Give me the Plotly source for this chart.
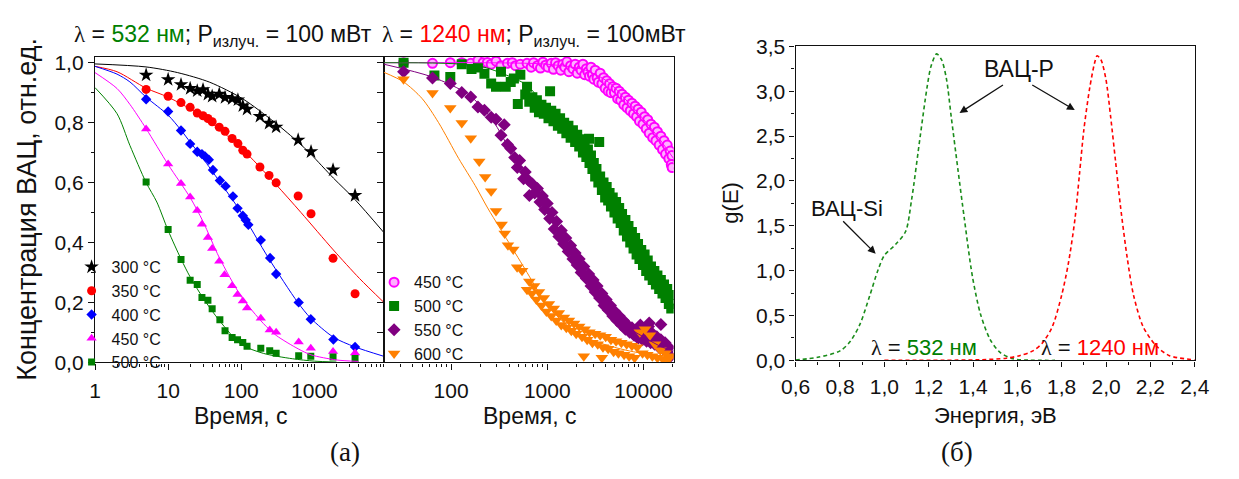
import plotly.graph_objects as go

# ---------------- panel (a), left: annealing at 532 nm ----------------
t_300 = [5, 10, 15, 20, 25, 30, 35, 40, 50, 60, 75, 90, 105, 120, 180, 240, 300, 600, 900, 1800, 3600]
c_300 = [0.959, 0.944, 0.927, 0.914, 0.906, 0.91, 0.895, 0.888, 0.895, 0.884, 0.88, 0.876, 0.856, 0.845,
         0.821, 0.798, 0.785, 0.742, 0.703, 0.642, 0.557]
t_350 = [5, 10, 15, 20, 25, 30, 35, 40, 50, 60, 75, 90, 105, 120, 180, 240, 300, 600, 900, 1800, 3600]
c_350 = [0.911, 0.888, 0.867, 0.851, 0.832, 0.823, 0.814, 0.803, 0.785, 0.771, 0.747, 0.73, 0.708, 0.695,
         0.652, 0.624, 0.599, 0.555, 0.496, 0.347, 0.229]
t_400 = [5, 10, 15, 20, 25, 29, 32, 36, 41, 51, 61, 77, 89, 105, 115, 125, 185, 248, 300, 610, 893, 1820, 3600]
c_400 = [0.878, 0.837, 0.774, 0.729, 0.703, 0.695, 0.687, 0.676, 0.642, 0.607, 0.588, 0.554, 0.514, 0.489,
         0.475, 0.459, 0.408, 0.348, 0.295, 0.2, 0.144, 0.076, 0.051]
t_450 = [5, 10, 15, 20, 25, 29, 35, 40, 50, 59, 75, 89, 105, 120, 185, 245, 300, 610, 893, 1800, 3600]
c_450 = [0.779, 0.662, 0.597, 0.552, 0.507, 0.461, 0.417, 0.38, 0.337, 0.292, 0.256, 0.226, 0.205, 0.181,
         0.147, 0.108, 0.1, 0.068, 0.047, 0.036, 0.031]
t_500 = [5, 10, 15, 20, 25, 29, 35, 40, 51, 60, 75, 89, 105, 120, 185, 245, 300, 610, 893, 1800, 3600]
c_500 = [0.602, 0.443, 0.343, 0.274, 0.26, 0.216, 0.207, 0.179, 0.142, 0.105, 0.083, 0.075, 0.066, 0.054,
         0.047, 0.039, 0.03, 0.022, 0.02, 0.018, 0.013]

# fitted kinetics curves, panel (a) left
fit_t_300 = [1, 5, 13.5, 37, 104, 290, 600, 893, 1820, 3540, 8930]
fit_c_300 = [0.996, 0.986, 0.967, 0.935, 0.88, 0.80, 0.735, 0.695, 0.615, 0.545, 0.433]
fit_t_350 = [1, 2, 5, 10, 30, 100, 290, 656, 1820, 4140, 8930]
fit_c_350 = [0.988, 0.97, 0.915, 0.885, 0.82, 0.715, 0.597, 0.50, 0.375, 0.28, 0.20]
fit_t_400 = [1, 2, 3, 5, 10, 15, 20, 30, 50, 100, 236, 593, 893, 1820, 3540, 8930]
fit_c_400 = [0.988, 0.962, 0.936, 0.885, 0.825, 0.775, 0.735, 0.68, 0.605, 0.5, 0.348, 0.2, 0.147, 0.084, 0.052, 0.02]
fit_t_450 = [1, 2, 3, 5, 10, 20, 30, 50, 100, 200, 300, 600, 900, 2000, 4000]
fit_c_450 = [0.967, 0.914, 0.861, 0.78, 0.66, 0.55, 0.47, 0.35, 0.22, 0.13, 0.09, 0.045, 0.025, 0.008, 0.003]
fit_t_500 = [1, 2, 3, 5, 7, 10, 15, 20, 30, 50, 100, 200, 500, 1000, 2000]
fit_c_500 = [0.917, 0.83, 0.724, 0.60, 0.535, 0.44, 0.345, 0.285, 0.215, 0.14, 0.06, 0.03, 0.012, 0.004, 0.001]

# ---------------- panel (a), right: annealing at 1240 nm ----------------
t_450b = [32, 64, 98, 129, 160, 190, 215, 238, 261, 293, 330, 385, 432, 468, 525, 616, 680, 720, 790, 850,
          900, 960, 1020, 1100, 1160, 1220, 1300, 1380, 1450, 1520, 1600, 1680, 1750, 1850, 1950, 2050,
          2150, 2250, 2350, 2450, 2550, 2650, 2750, 2850, 2950, 3050, 3150, 3300, 3400, 3550, 3700, 3850,
          4000, 4150, 4300, 4450, 4600, 4800, 5000, 5200, 5400, 5600, 5800, 6000, 6250, 6500, 6750, 7000,
          7300, 7600, 7900, 8200, 8500, 8800, 9100, 9500, 9900, 10300, 10700, 11100, 11500, 12000, 12500,
          13000, 13500, 14000, 14600, 15200, 15800, 16400, 17000, 17700, 18400, 19000, 19500, 19800, 19900]
c_450b = [1.0, 0.998, 1.0, 1.0, 0.998, 1.008, 1.0, 1.001, 0.995, 1.005, 0.99, 0.998, 1.0, 0.99, 0.995, 0.998,
          0.985, 1.0, 0.99, 0.982, 1.002, 0.992, 0.985, 0.998, 0.978, 1.0, 0.99, 0.975, 0.995, 0.985, 1.003,
          0.97, 0.99, 0.98, 0.995, 0.965, 0.985, 0.975, 0.995, 0.96, 0.98, 0.97, 0.955, 0.985, 0.96, 0.945,
          0.975, 0.95, 0.935, 0.965, 0.93, 0.95, 0.915, 0.94, 0.905, 0.93, 0.9, 0.92, 0.9, 0.915, 0.88, 0.905,
          0.875, 0.895, 0.86, 0.885, 0.85, 0.875, 0.84, 0.865, 0.83, 0.855, 0.82, 0.845, 0.805, 0.835, 0.795,
          0.82, 0.78, 0.81, 0.765, 0.795, 0.75, 0.785, 0.74, 0.77, 0.725, 0.755, 0.71, 0.74, 0.695, 0.725,
          0.68, 0.705, 0.66, 0.69, 0.65]
t_500b = [32, 67, 98, 129, 163, 190, 222, 261, 293, 330, 370, 417, 450, 494, 525, 590, 616, 650, 700, 740,
          780, 820, 870, 920, 970, 1030, 1070, 1100, 1160, 1220, 1290, 1360, 1430, 1500, 1580, 1660, 1750,
          1850, 1950, 2050, 2150, 2250, 2350, 2450, 2550, 2650, 2720, 2750, 2850, 2950, 3050, 3150, 3250,
          3400, 3470, 3550, 3700, 3850, 4000, 4150, 4300, 4450, 4600, 4800, 5000, 5200, 5400, 5600, 5800,
          6000, 6250, 6500, 6750, 7000, 7300, 7600, 7900, 8200, 8500, 8800, 9100, 9500, 9900, 10300, 10700,
          11100, 11500, 12000, 12500, 13000, 13500, 14000, 14600, 15200, 15800, 16400, 17000, 17700, 18400,
          19000, 19500]
c_500b = [1.0, 0.957, 0.952, 0.995, 0.979, 0.984, 0.963, 0.931, 0.92, 0.97, 0.92, 0.936, 0.947, 0.862, 0.96,
          0.894, 0.92, 0.87, 0.885, 0.85, 0.875, 0.835, 0.86, 0.83, 0.85, 0.815, 0.905, 0.84, 0.805, 0.83,
          0.79, 0.815, 0.78, 0.8, 0.765, 0.79, 0.75, 0.775, 0.735, 0.76, 0.72, 0.745, 0.7, 0.73, 0.685, 0.71,
          0.746, 0.665, 0.69, 0.645, 0.665, 0.62, 0.645, 0.6, 0.735, 0.62, 0.575, 0.6, 0.55, 0.585, 0.54,
          0.565, 0.52, 0.55, 0.5, 0.535, 0.48, 0.515, 0.465, 0.495, 0.44, 0.475, 0.42, 0.455, 0.4, 0.435,
          0.38, 0.415, 0.36, 0.395, 0.345, 0.375, 0.325, 0.36, 0.305, 0.34, 0.29, 0.32, 0.275, 0.305, 0.26,
          0.29, 0.245, 0.275, 0.23, 0.26, 0.215, 0.245, 0.195, 0.225, 0.18]
t_550b = [32, 64, 98, 129, 160, 190, 222, 261, 293, 330, 357, 385, 417, 458, 488, 516, 567, 590, 636, 652,
          700, 740, 790, 840, 890, 940, 1000, 1060, 1120, 1180, 1250, 1320, 1400, 1480, 1560, 1650, 1750,
          1850, 1950, 2050, 2150, 2250, 2400, 2550, 2700, 2850, 3000, 3150, 3300, 3500, 3700, 3900, 4100,
          4300, 4550, 4800, 5050, 5300, 5600, 5900, 6200, 6500, 6850, 7200, 7600, 8000, 8400, 8800, 9300,
          9800, 10300, 10800, 11300, 11500, 11900, 12500, 13100, 13800, 14500, 15200, 15200, 16000, 16800,
          17600, 18400, 19200]
c_550b = [0.97, 0.949, 0.931, 0.901, 0.886, 0.852, 0.841, 0.818, 0.811, 0.758, 0.793, 0.727, 0.714, 0.684,
          0.65, 0.674, 0.613, 0.635, 0.608, 0.557, 0.595, 0.565, 0.58, 0.535, 0.555, 0.51, 0.53, 0.48, 0.5,
          0.445, 0.47, 0.42, 0.44, 0.395, 0.415, 0.37, 0.39, 0.345, 0.365, 0.325, 0.345, 0.3, 0.32, 0.28,
          0.295, 0.255, 0.275, 0.235, 0.255, 0.215, 0.23, 0.19, 0.21, 0.175, 0.19, 0.155, 0.17, 0.14, 0.155,
          0.125, 0.14, 0.11, 0.125, 0.1, 0.115, 0.09, 0.105, 0.08, 0.125, 0.075, 0.1, 0.07, 0.12, 0.131,
          0.065, 0.095, 0.06, 0.085, 0.05, 0.075, 0.126, 0.045, 0.065, 0.035, 0.05, 0.02]
t_600b = [32, 64, 98, 129, 160, 196, 226, 261, 293, 335, 361, 390, 443, 486, 547, 616, 650, 690, 730, 770,
          820, 870, 920, 980, 1040, 1100, 1170, 1240, 1320, 1400, 1490, 1580, 1680, 1780, 1900, 2000, 2150,
          2300, 2400, 2450, 2600, 2750, 2950, 3150, 3350, 3550, 3700, 3800, 4050, 4300, 4600, 4900, 5200,
          5500, 5900, 6300, 6700, 7100, 7600, 8100, 8600, 9200, 9800, 10400, 11000, 11700, 12400, 13200,
          14000, 15000, 16000, 17000, 18000, 19000]
c_600b = [0.945, 0.899, 0.849, 0.799, 0.748, 0.67, 0.619, 0.571, 0.505, 0.46, 0.43, 0.391, 0.377, 0.317,
          0.306, 0.242, 0.27, 0.23, 0.255, 0.21, 0.235, 0.19, 0.215, 0.17, 0.195, 0.155, 0.18, 0.14, 0.165,
          0.125, 0.15, 0.115, 0.14, 0.105, 0.13, 0.095, 0.12, 0.085, 0.02, 0.11, 0.075, 0.1, 0.065, 0.095,
          0.06, 0.09, 0.015, 0.05, 0.085, 0.045, 0.075, 0.035, 0.07, 0.03, 0.065, 0.025, 0.06, 0.02, 0.055,
          0.015, 0.05, 0.1, 0.03, 0.11, 0.025, 0.09, 0.02, 0.06, 0.015, 0.04, 0.01, 0.03, 0.008, 0.02]

# fitted kinetics curves, panel (a) right
fit_t_450b = [20, 200, 1000, 2500, 4340, 6410, 9480, 13970, 20650]
fit_c_450b = [1.0, 1.0, 0.995, 0.975, 0.935, 0.88, 0.82, 0.755, 0.68]
fit_t_500b = [20, 190, 400, 616, 800, 1000, 1585, 2512, 3981, 6310, 10000, 15850, 20650]
fit_c_500b = [1.0, 0.99, 0.955, 0.925, 0.885, 0.85, 0.77, 0.685, 0.575, 0.46, 0.35, 0.25, 0.19]
fit_t_550b = [20, 64, 151, 261, 385, 616, 1000, 1585, 2512, 3981, 6310, 10000, 15850, 20650]
fit_c_550b = [0.995, 0.952, 0.894, 0.815, 0.724, 0.608, 0.5, 0.38, 0.28, 0.19, 0.125, 0.085, 0.05, 0.04]
fit_t_600b = [20, 32, 50, 74, 120, 178, 240, 316, 398, 616, 794, 1000, 1413, 2000, 3162, 5012, 7943, 12590, 20650]
fit_c_600b = [0.968, 0.936, 0.88, 0.80, 0.68, 0.59, 0.515, 0.452, 0.40, 0.30, 0.24, 0.19, 0.14, 0.10,
              0.07, 0.05, 0.035, 0.025, 0.015]

# ---------------- panel (б): energy distribution g(E) ----------------
e_532 = [0.60, 0.70, 0.80, 0.847, 0.891, 0.935, 0.972, 1.0, 1.05, 1.096, 1.123, 1.162, 1.192, 1.211, 1.236,
         1.258, 1.28, 1.302, 1.331, 1.361, 1.397, 1.434, 1.478, 1.522, 1.581, 1.65, 1.77]
g_532 = [0.005, 0.035, 0.106, 0.213, 0.408, 0.727, 1.01, 1.17, 1.29, 1.436, 1.79, 2.5, 3.03, 3.28, 3.415,
         3.35, 3.14, 2.71, 2.145, 1.578, 0.94, 0.514, 0.23, 0.089, 0.018, 0.003, 0.0]
e_1240 = [1.0, 1.43, 1.55, 1.61, 1.67, 1.713, 1.757, 1.80, 1.83, 1.86, 1.88, 1.90, 1.926, 1.948, 1.96, 1.977,
          1.999, 2.021, 2.043, 2.065, 2.095, 2.124, 2.168, 2.227, 2.286, 2.4]
g_1240 = [0.0, 0.007, 0.025, 0.053, 0.106, 0.195, 0.372, 0.727, 1.08, 1.578, 2.07, 2.57, 3.03, 3.31, 3.394,
          3.35, 3.14, 2.71, 2.216, 1.72, 1.152, 0.727, 0.372, 0.16, 0.053, 0.007]

# tick values and labels
ticks_t_a = [1, 10, 100, 1000]
ticks_t_b = [100, 1000, 10000]
ticks_c = [0.0, 0.2, 0.4, 0.6, 0.8, 1.0]
ticks_c_text = ["0,0", "0,2", "0,4", "0,6", "0,8", "1,0"]
ticks_e = [0.6, 0.8, 1.0, 1.2, 1.4, 1.6, 1.8, 2.0, 2.2, 2.4]
ticks_e_text = ["0,6", "0,8", "1,0", "1,2", "1,4", "1,6", "1,8", "2,0", "2,2", "2,4"]
ticks_g = [0.0, 0.5, 1.0, 1.5, 2.0, 2.5, 3.0, 3.5]
ticks_g_text = ["0,0", "0,5", "1,0", "1,5", "2,0", "2,5", "3,0", "3,5"]

W, H = 1239, 479
FONT = "Liberation Sans, Arial, sans-serif"
SERIF = "Liberation Serif, Times New Roman, serif"
INK = "#111111"


def fx(p):
    return p / W


def fy(p):
    return 1 - p / H


BLACK, RED, BLUE, MAGENTA, GREEN = "#000000", "#ff0000", "#0000ff", "#ff00ff", "#008000"
PURPLE, ORANGE = "#800080", "#ff8000"

fig = go.Figure()

# --- left sub-panel markers
left_series = [
    ("300 °C", t_300, c_300, "star", 11, BLACK),
    ("350 °C", t_350, c_350, "circle", 9, RED),
    ("400 °C", t_400, c_400, "diamond", 8, BLUE),
    ("450 °C", t_450, c_450, "triangle-up", 9, MAGENTA),
    ("500 °C", t_500, c_500, "square", 7, GREEN),
]
for name, tx, cy, sym, sz, col in left_series:
    fig.add_trace(go.Scatter(x=tx, y=cy, mode="markers", name=name, legend="legend",
                             marker=dict(symbol=sym, size=sz, color=col, line=dict(width=0)),
                             xaxis="x", yaxis="y"))

left_fits = [(fit_t_300, fit_c_300, BLACK), (fit_t_350, fit_c_350, RED), (fit_t_400, fit_c_400, BLUE),
             (fit_t_450, fit_c_450, MAGENTA), (fit_t_500, fit_c_500, GREEN)]
for tx, cy, col in left_fits:
    fig.add_trace(go.Scatter(x=tx, y=cy, mode="lines", showlegend=False,
                             line=dict(color=col, width=1, shape="spline", smoothing=0.8),
                             xaxis="x", yaxis="y"))

# --- right sub-panel markers
right_series = [
    ("450 °C", t_450b, c_450b, "circle", 9, "#ffb0ff", dict(width=2, color=MAGENTA)),
    ("500 °C", t_500b, c_500b, "square", 10, GREEN, dict(width=0)),
    ("550 °C", t_550b, c_550b, "diamond", 10, PURPLE, dict(width=0)),
    ("600 °C", t_600b, c_600b, "triangle-down", 11, ORANGE, dict(width=0)),
]
for name, tx, cy, sym, sz, col, ln in right_series:
    fig.add_trace(go.Scatter(x=tx, y=cy, mode="markers", name=name, legend="legend2",
                             marker=dict(symbol=sym, size=sz, color=col, line=ln),
                             xaxis="x2", yaxis="y2"))

right_fits = [(fit_t_450b, fit_c_450b, MAGENTA), (fit_t_500b, fit_c_500b, GREEN),
              (fit_t_550b, fit_c_550b, PURPLE), (fit_t_600b, fit_c_600b, ORANGE)]
for tx, cy, col in right_fits:
    fig.add_trace(go.Scatter(x=tx, y=cy, mode="lines", showlegend=False,
                             line=dict(color=col, width=1, shape="spline", smoothing=0.8),
                             xaxis="x2", yaxis="y2"))

# --- g(E) curves
for ex, gy, col in [(e_532, g_532, "#1a8c1a"), (e_1240, g_1240, RED)]:
    fig.add_trace(go.Scatter(x=ex, y=gy, mode="lines", showlegend=False,
                             line=dict(color=col, width=1.6, dash="4px,3px", shape="spline", smoothing=0.8),
                             xaxis="x3", yaxis="y3"))

axis_common = dict(showline=True, linecolor=INK, linewidth=1.4, mirror=True, showgrid=False,
                   zeroline=False, ticks="outside", tickcolor=INK, tickwidth=1.2,
                   tickfont=dict(family=FONT, size=21, color=INK))

ya_dom = [fy(368), fy(47)]
yr_dom = [fy(366), fy(36)]
legend_font = dict(family=FONT, size=16, color=INK)

fig.update_layout(
    width=W, height=H, margin=dict(l=0, r=0, t=0, b=0),
    paper_bgcolor="white", plot_bgcolor="white",
    font=dict(family=FONT, color=INK),
    xaxis=dict(axis_common, type="log", range=[0, 3.95], domain=[fx(82), fx(378)], anchor="y",
               tickvals=ticks_t_a, ticktext=[str(v) for v in ticks_t_a], ticklen=6, ticklabelstandoff=3,
               minor=dict(ticks="outside", ticklen=3, dtick="D1", tickcolor=INK, showgrid=False)),
    yaxis=dict(axis_common, range=[0, 1.02], domain=ya_dom, anchor="x",
               tickvals=ticks_c, ticktext=ticks_c_text, ticklen=6,
               minor=dict(ticks="outside", ticklen=3, dtick=0.1, tickcolor=INK, showgrid=False)),
    xaxis2=dict(axis_common, type="log", range=[1.30, 4.315], domain=[fx(378), fx(675)], anchor="y2",
                tickvals=ticks_t_b, ticktext=[str(v) for v in ticks_t_b], ticklen=6, ticklabelstandoff=3,
                minor=dict(ticks="outside", ticklen=3, dtick="D1", tickcolor=INK, showgrid=False)),
    yaxis2=dict(axis_common, range=[0, 1.02], domain=ya_dom, anchor="x2",
                dtick=0.1, tick0=0, showticklabels=False, ticklen=6),
    xaxis3=dict(axis_common, range=[0.6, 2.4], domain=[fx(800), fx(1209)], anchor="y3",
                tickvals=ticks_e, ticktext=ticks_e_text, ticklen=5, ticklabelstandoff=2,
                minor=dict(ticks="outside", ticklen=3, dtick=0.1, tick0=0.6, tickcolor=INK, showgrid=False)),
    yaxis3=dict(axis_common, range=[0, 3.5], domain=yr_dom, anchor="x3",
                tickvals=ticks_g, ticktext=ticks_g_text, ticklen=5,
                minor=dict(ticks="outside", ticklen=3, dtick=0.25, tick0=0, tickcolor=INK, showgrid=False)),
    legend=dict(x=fx(58), y=fy(250), xanchor="left", yanchor="top", bgcolor="rgba(0,0,0,0)",
                font=legend_font, tracegroupgap=0, itemwidth=30),
    legend2=dict(x=fx(368), y=fy(266), xanchor="left", yanchor="top", bgcolor="rgba(0,0,0,0)",
                 font=legend_font, tracegroupgap=0, itemwidth=30),
)

lam = "<span style='font-family:Liberation Serif'>λ</span>"
texts = [
    (lam + " = <span style='color:#008000'>532 нм</span>; P<sub>излуч.</sub> = 100 мВт", 213, 25, 23, FONT, 0),
    (lam + " = <span style='color:#ff0000'>1240 нм</span>; P<sub>излуч.</sub> = 100мВт", 532, 25, 23, FONT, 0),
    ("Концентрация ВАЦ, отн.ед.", 12, 207, 27, FONT, -90),
    ("Время, с", 231, 424, 23, FONT, 0),
    ("Время, с", 527, 424, 23, FONT, 0),
    ("(а)", 338, 462, 27, SERIF, 0),
    ("Энергия, эВ", 1005, 424, 22, FONT, 0),
    ("g(E)", 733, 200, 22, FONT, -90),
    ("(б)", 965, 462, 27, SERIF, 0),
    ("ВАЦ-P", 1029, 60, 23, FONT, 0),
    ("ВАЦ-Si", 853, 206, 22, FONT, 0),
    (lam + " = <span style='color:#008000'>532 нм</span>", 932, 352, 22, FONT, 0),
    (lam + " = <span style='color:#ff0000'>1240 нм</span>", 1112, 352, 22, FONT, 0),
]
for txt, px, py, size, fam, ang in texts:
    fig.add_annotation(text=txt, x=fx(px), y=fy(py), xref="paper", yref="paper", showarrow=False,
                       xanchor="center", yanchor="middle", textangle=ang,
                       font=dict(family=fam, size=size, color=INK))

# arrows pointing to the peaks of g(E)
arrows = [(1.339, 2.757, 45, -29), (1.859, 2.789, -44, -26), (0.961, 1.188, -34, -34)]
for ex, gy, dx, dy in arrows:
    fig.add_annotation(x=ex, y=gy, xref="x3", yref="y3", ax=dx, ay=dy, axref="pixel", ayref="pixel",
                       text="", showarrow=True, arrowhead=2, arrowsize=1.2, arrowwidth=1.3,
                       arrowcolor=INK)

fig.write_html("out.html")
